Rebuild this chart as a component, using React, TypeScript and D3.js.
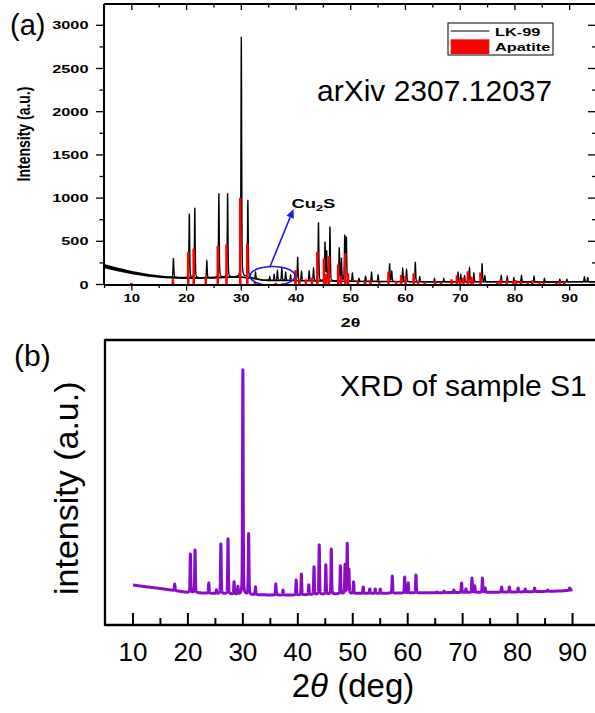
import React from "react";
import * as d3 from "d3";

const W = 595;
const H = 713;

// ---------- Panel (a) data ----------
const ticksAx = [10, 20, 30, 40, 50, 60, 70, 80, 90];
const minorAx = [5, 15, 25, 35, 45, 55, 65, 75, 85, 95];
const ticksAy = [0, 500, 1000, 1500, 2000, 2500, 3000];
const minorAy = [250, 750, 1250, 1750, 2250, 2750];

// LK-99 background (2θ, intensity)
const bgA: [number, number][] = [
  [5, 212], [7, 180], [10, 138], [13, 106], [16, 85], [19, 77], [22, 76], [25, 78],
  [28, 85], [30, 86], [32, 72], [34, 50], [36, 45], [38, 46], [40, 44], [45, 40],
  [50, 36], [55, 34], [60, 33], [65, 30], [70, 32], [75, 30], [80, 30], [85, 28],
  [90, 30], [95, 32],
];
// half-thickness of the noisy background band
const noiseA: [number, number][] = [
  [5, 24], [10, 19], [16, 13], [30, 10], [40, 8], [95, 8],
];
// LK-99 peaks (2θ, top intensity)
const peaksA: [number, number][] = [
  [17.6, 305], [20.5, 820], [21.5, 885], [23.7, 270], [25.9, 1055], [27.5, 1055],
  [30.0, 2866], [31.2, 976], [32.6, 140], [35.2, 90], [36.0, 116], [36.6, 160],
  [37.4, 190], [38.1, 140], [39.0, 110], [40.3, 320], [41.0, 150], [42.4, 155],
  [43.2, 185], [44.1, 717], [45.3, 486], [45.6, 380], [46.2, 667], [47.9, 424],
  [48.3, 300], [48.9, 562], [49.2, 540], [50.3, 130], [51.5, 70], [52.7, 96],
  [53.8, 139], [55.0, 110], [57.1, 243], [57.5, 150], [59.5, 185], [60.2, 170],
  [61.8, 262], [62.6, 90], [65.3, 70], [67.0, 70], [69.6, 139], [70.1, 115],
  [70.8, 100], [71.7, 192], [72.5, 130], [74.0, 243], [74.5, 100], [77.5, 105],
  [78.6, 95], [79.8, 80], [81.2, 105], [83.5, 95], [85.4, 70], [88.2, 60],
  [89.5, 60], [92.7, 90], [93.3, 80],
];
// Apatite reference lines (2θ, intensity)
const apatite: [number, number][] = [
  [9.9, 18], [17.5, 70], [20.3, 377], [21.3, 416], [23.5, 88], [25.7, 443],
  [27.3, 463], [29.8, 1002], [31.1, 470], [32.5, 30], [36.3, 20], [37.5, 15],
  [39.9, 165], [40.6, 60], [41.8, 60], [42.9, 80], [43.9, 377], [45.1, 300],
  [45.5, 120], [46.0, 328], [47.7, 231], [48.2, 100], [49.0, 358], [49.5, 130],
  [51.3, 40], [52.6, 40], [53.6, 50], [55.2, 30], [56.9, 150], [58.3, 40],
  [59.2, 110], [60.0, 100], [61.5, 130], [62.3, 40], [63.5, 30], [65.4, 40],
  [66.5, 30], [68.4, 60], [69.4, 108], [70.0, 60], [70.6, 80], [71.4, 154],
  [72.0, 90], [72.3, 60], [73.7, 139], [76.8, 30], [77.4, 60], [78.5, 50],
  [79.7, 40], [80.2, 50], [81.1, 40], [82.3, 30], [83.2, 50], [84.5, 30],
  [85.3, 30], [87.6, 25], [88.2, 40], [89.0, 35],
];

// ---------- Panel (b) data ----------
const ticksBx = [10, 20, 30, 40, 50, 60, 70, 80, 90];
const minorBx = [15, 25, 35, 45, 55, 65, 75, 85];
const bgB: [number, number][] = [
  [10, 40], [12, 38.5], [15, 36.5], [20, 32.5], [25, 31.5], [30, 30.5], [35, 30],
  [40, 30], [50, 31.5], [60, 32], [70, 32.5], [80, 33], [88, 34], [90, 35],
];
const peaksB: [number, number][] = [
  [17.6, 41], [20.45, 71], [21.3, 75], [23.8, 42], [25.2, 35], [26.0, 81],
  [27.3, 86], [28.4, 43], [29.1, 38], [30.0, 255], [31.05, 91], [32.3, 38],
  [36.0, 41], [37.3, 35], [39.7, 45], [40.65, 51], [42.0, 40], [42.95, 58],
  [43.9, 80], [45.1, 60], [46.1, 76], [47.75, 59], [48.6, 60], [49.0, 81],
  [49.3, 55], [50.15, 43], [51.9, 38], [53.1, 36], [54.1, 36], [55.0, 36],
  [57.2, 49], [59.45, 48], [60.1, 42], [61.5, 50], [65.3, 33], [66.6, 34],
  [68.4, 35], [69.8, 42], [70.6, 36], [71.7, 47], [72.2, 39], [73.6, 47],
  [74.1, 37], [77.1, 38], [78.5, 38], [80.1, 37], [81.4, 36], [83.1, 37],
  [85.5, 35], [89.5, 37],
];

// ---------- helpers ----------
function bgScale(bg: [number, number][]) {
  return d3
    .scaleLinear()
    .domain(bg.map((d) => d[0]))
    .range(bg.map((d) => d[1]))
    .clamp(true);
}

function buildProfile(
  peaks: [number, number][],
  bg: [number, number][],
  from: number,
  to: number,
  step: number,
  w: number,
  eta: number
): [number, number][] {
  const b = bgScale(bg);
  const amps = peaks.map(([c, h]) => [c, Math.max(0, h - b(c))]);
  const n = Math.round((to - from) / step);
  const pts: [number, number][] = [];
  for (let i = 0; i <= n; i++) {
    const t = from + i * step;
    let v = b(t);
    for (const [c, a] of amps) {
      const x = (t - c) / w;
      if (Math.abs(x) > 80) continue;
      v += a * (eta / (1 + x * x) + (1 - eta) * Math.exp(-0.693 * x * x));
    }
    pts.push([t, v]);
  }
  return pts;
}

const FONT = "Arial, 'Liberation Sans', Helvetica, sans-serif";
const SX = 1.42;

export default function App() {
  // scales (a)
  const xA = d3.scaleLinear().domain([5, 95]).range([104.5, 597]);
  const yA = d3.scaleLinear().domain([0, 3000]).range([284.5, 25.3]);
  const topA = 4;
  const botA = 285;
  const leftA = 104;
  const rightA = 597;

  // scales (b)
  const xB = d3.scaleLinear().domain([5, 95]).range([105.5, 600]);
  const yB = d3.scaleLinear().domain([0, 285]).range([625, 340]);
  const topB = 340;
  const botB = 625;
  const leftB = 105;

  const profA = buildProfile(peaksA, bgA, 5, 95, 0.01, 0.08, 0.35);
  const profB = buildProfile(peaksB, bgB, 10, 90, 0.01, 0.07, 0.35);

  const lineA = d3
    .line<[number, number]>()
    .x((d) => xA(d[0]))
    .y((d) => yA(d[1]));
  const lineB = d3
    .line<[number, number]>()
    .x((d) => xB(d[0]))
    .y((d) => yB(d[1]));

  const bA = bgScale(bgA);
  const nA = bgScale(noiseA);
  const bandPts = d3.range(5, 95.001, 0.1);
  const band = d3
    .area<number>()
    .x((t) => xA(t))
    .y0((t) => yA(bA(t) - nA(t)))
    .y1((t) => yA(bA(t) + nA(t)))(bandPts);

  // Cu2S annotation in data coords
  const ellC = [35.7, 98];
  const ellR = [4.1, 110];
  const arrFrom = [35.2, 200];
  const arrTo = [39.55, 875];
  const ax0 = xA(arrFrom[0]);
  const ay0 = yA(arrFrom[1]);
  const ax1 = xA(arrTo[0]);
  const ay1 = yA(arrTo[1]);
  const ang = Math.atan2(ay1 - ay0, ax1 - ax0);
  const hl = 9;
  const hw = 4;
  const bx = ax1 - hl * Math.cos(ang);
  const by = ay1 - hl * Math.sin(ang);
  const head = [
    [ax1, ay1],
    [bx + hw * Math.sin(ang), by - hw * Math.cos(ang)],
    [bx - hw * Math.sin(ang), by + hw * Math.cos(ang)],
  ]
    .map((p) => p.join(","))
    .join(" ");

  const stretched = (x: number, y: number) => `translate(${x},${y}) scale(${SX},1)`;

  return (
    <svg
      width={W}
      height={H}
      viewBox={`0 0 ${W} ${H}`}
      style={{ position: "absolute", left: 0, top: 0, background: "#fff" }}
      fontFamily={FONT}
    >
      <rect x={0} y={0} width={W} height={H} fill="#fff" />
      <defs>
        <clipPath id="clipA">
          <rect x={leftA} y={topA} width={rightA - leftA} height={botA - topA} />
        </clipPath>
      </defs>

      {/* ---------------- Panel (a) ---------------- */}
      <g clipPath="url(#clipA)">
        <path d={band || ""} fill="#000" />
        <path d={lineA(profA) || ""} fill="none" stroke="#000" strokeWidth={1.3} />
        {apatite.map(([t, v], i) => (
          <line
            key={i}
            x1={xA(t)}
            x2={xA(t)}
            y1={yA(0)}
            y2={yA(v)}
            stroke="#ff0000"
            strokeWidth={2.6}
          />
        ))}
        <ellipse
          cx={xA(ellC[0])}
          cy={yA(ellC[1])}
          rx={xA(ellC[0] + ellR[0]) - xA(ellC[0])}
          ry={yA(0) - yA(ellR[1])}
          fill="none"
          stroke="#1a1ae6"
          strokeWidth={1.6}
        />
      </g>
      <line x1={ax0} y1={ay0} x2={bx} y2={by} stroke="#1a1ae6" strokeWidth={1.6} />
      <polygon points={head} fill="#1a1ae6" />
      <text
        transform={stretched(xA(39.15), yA(885))}
        fontSize={13}
        fontWeight="bold"
      >
        Cu
        <tspan fontSize={9} dy={3}>2</tspan>
        <tspan dy={-3}>S</tspan>
      </text>

      {/* axes frame (a) */}
      <g stroke="#000" strokeWidth={2} fill="none">
        <line x1={leftA} x2={rightA} y1={topA} y2={topA} />
        <line x1={leftA} x2={rightA} y1={botA} y2={botA} />
        <line x1={leftA} x2={leftA} y1={topA} y2={botA} />
        <line x1={rightA} x2={rightA} y1={topA} y2={botA} />
      </g>
      <g stroke="#000" strokeWidth={1.3}>
        {ticksAx.map((t) => (
          <g key={"ax" + t}>
            <line x1={xA(t)} x2={xA(t)} y1={botA} y2={botA + 5.5} />
            <line x1={xA(t)} x2={xA(t)} y1={topA} y2={topA + 6} />
          </g>
        ))}
        {minorAx.map((t) => (
          <g key={"amx" + t}>
            <line x1={xA(t)} x2={xA(t)} y1={botA} y2={botA + 3} />
            <line x1={xA(t)} x2={xA(t)} y1={topA} y2={topA + 3.5} />
          </g>
        ))}
        {ticksAy.map((v) => (
          <g key={"ay" + v}>
            <line x1={leftA - 8} x2={leftA} y1={yA(v)} y2={yA(v)} />
            <line x1={rightA - 9} x2={rightA} y1={yA(v)} y2={yA(v)} />
          </g>
        ))}
        {minorAy.map((v) => (
          <g key={"amy" + v}>
            <line x1={leftA - 4.5} x2={leftA} y1={yA(v)} y2={yA(v)} />
            <line x1={rightA - 5} x2={rightA} y1={yA(v)} y2={yA(v)} />
          </g>
        ))}
      </g>
      {ticksAx.map((t) => (
        <text
          key={"axl" + t}
          transform={stretched(xA(t), 301.7)}
          textAnchor="middle"
          fontSize={10.5}
          fontWeight="bold"
        >
          {t}
        </text>
      ))}
      {ticksAy.map((v) => (
        <text
          key={"ayl" + v}
          transform={stretched(88.5, yA(v) + 4)}
          textAnchor="end"
          fontSize={11.5}
          fontWeight="bold"
        >
          {v}
        </text>
      ))}
      <text transform={stretched(350.5, 326.5)} textAnchor="middle" fontSize={12.5} fontWeight="bold">
        2θ
      </text>
      <text
        transform={`translate(29.5,134) scale(1.3,1) rotate(-90)`}
        textAnchor="middle"
        fontSize={14}
        fontWeight="bold"
      >
        Intensity (a.u.)
      </text>
      <text x={10} y={35} fontSize={29}>
        (a)
      </text>
      <text x={317} y={101} fontSize={30}>
        arXiv 2307.12037
      </text>

      {/* legend (a) */}
      <rect x={448} y={23} width={105} height={32} fill="#fff" stroke="#000" strokeWidth={1} />
      <line x1={450.7} x2={489.3} y1={31} y2={31} stroke="#000" strokeWidth={1} />
      <rect x={450.7} y={39.3} width={38.6} height={14.7} fill="#ff0000" />
      <text transform={stretched(495, 35.7)} fontSize={11.5} fontWeight="bold">
        LK-99
      </text>
      <text transform={stretched(495, 50.7)} fontSize={11.5} fontWeight="bold">
        Apatite
      </text>

      {/* ---------------- Panel (b) ---------------- */}
      <path
        d={lineB(profB) || ""}
        fill="none"
        stroke="#8a0cc8"
        strokeWidth={3}
        strokeLinejoin="round"
      />
      <g stroke="#000" strokeWidth={2.3} fill="none">
        <line x1={leftB} x2={W} y1={topB} y2={topB} />
        <line x1={leftB} x2={W} y1={botB} y2={botB} />
        <line x1={leftB} x2={leftB} y1={topB - 1.1} y2={botB + 1.1} />
      </g>
      <g stroke="#000" strokeWidth={2}>
        {ticksBx.map((t) => (
          <line key={"bx" + t} x1={xB(t)} x2={xB(t)} y1={botB} y2={botB - 12} />
        ))}
        {minorBx.map((t) => (
          <line key={"bmx" + t} x1={xB(t)} x2={xB(t)} y1={botB} y2={botB - 7} />
        ))}
      </g>
      {ticksBx.map((t) => (
        <text key={"bxl" + t} x={xB(t)} y={661} textAnchor="middle" fontSize={26}>
          {t}
        </text>
      ))}
      <text x={353} y={697} textAnchor="middle" fontSize={33}>
        2<tspan fontStyle="italic">θ</tspan> (deg)
      </text>
      <text transform={`translate(78,595) rotate(-90)`} textAnchor="start" fontSize={34}>
        intensity (a.u.)
      </text>
      <text x={14} y={366} fontSize={30}>
        (b)
      </text>
      <text x={340} y={396} fontSize={30}>
        XRD of sample S1
      </text>
    </svg>
  );
}
